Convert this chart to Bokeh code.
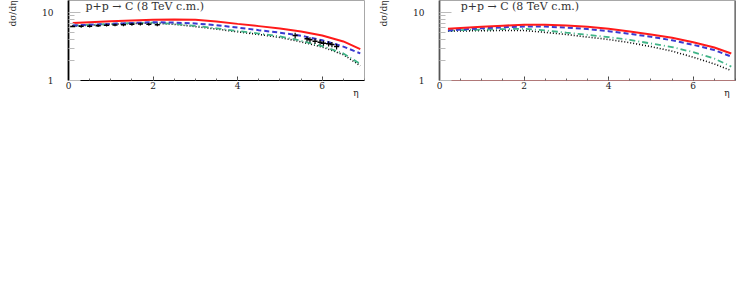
import math
from bokeh.plotting import figure
from bokeh.layouts import row
from bokeh.models import (Range1d, SingleIntervalTicker, FixedTicker, Label, Span,
                          BasicTickFormatter)
from bokeh.embed import file_html
from bokeh.resources import INLINE

# ---------------- data ----------------
eta_l = [0.1, 0.5, 1.0, 1.5, 2.0, 2.5, 3.0, 3.5, 4.0, 4.5, 5.0, 5.5, 6.0, 6.5, 6.9]
red_l = [7.0, 7.2, 7.45, 7.65, 7.8, 7.87, 7.8, 7.35, 6.8, 6.3, 5.8, 5.25, 4.6, 3.75, 2.9]
blue_l = [6.45, 6.6, 6.8, 7.0, 7.2, 7.1, 6.9, 6.5, 6.0, 5.5, 5.05, 4.55, 3.9, 3.15, 2.5]
green_l = [6.4, 6.6, 6.8, 7.0, 7.1, 6.8, 6.35, 5.85, 5.35, 4.9, 4.45, 3.85, 3.2, 2.5, 1.75]
black_l = [6.3, 6.5, 6.7, 6.9, 7.0, 6.7, 6.2, 5.7, 5.2, 4.75, 4.3, 3.7, 3.1, 2.4, 1.65]

eta_r = [0.2, 0.5, 1.0, 1.5, 2.0, 2.5, 3.0, 3.5, 4.0, 4.5, 5.0, 5.5, 6.0, 6.5, 6.9]
red_r = [5.75, 5.9, 6.15, 6.4, 6.59, 6.6, 6.45, 6.15, 5.75, 5.25, 4.75, 4.25, 3.66, 3.05, 2.5]
blue_r = [5.43, 5.6, 5.85, 6.05, 6.22, 6.2, 6.0, 5.7, 5.31, 4.85, 4.4, 3.9, 3.35, 2.8, 2.25]
green_r = [5.43, 5.5, 5.6, 5.7, 5.75, 5.45, 5.05, 4.7, 4.34, 3.95, 3.5, 3.1, 2.61, 2.1, 1.6]
black_r = [5.31, 5.35, 5.4, 5.43, 5.43, 5.1, 4.75, 4.35, 4.01, 3.6, 3.15, 2.7, 2.2, 1.75, 1.40]

pts_eta = [0.1, 0.3, 0.5, 0.7, 0.9, 1.1, 1.3, 1.5, 1.7, 1.9, 2.1,
           5.36, 5.64, 5.71, 5.83, 5.95, 6.03, 6.15, 6.23, 6.34]
pts_val = [6.2, 6.25, 6.3, 6.4, 6.5, 6.55, 6.6, 6.7, 6.75, 6.7, 6.6,
           4.59, 4.10, 3.97, 3.78, 3.66, 3.54, 3.47, 3.38, 3.16]
pts_err = [0.3] * 11 + [0.45, 0.35, 0.35, 0.35, 0.3, 0.3, 0.3, 0.3, 0.3]
pts_xerr = [0.06] * 20

y_major = [1, 10]
y_minor = [2, 3, 4, 5, 6, 7, 8, 9]

title_text = "p+p \u2192 C (8 TeV c.m.)"
ylabel_text = "d\u03c3/d\u03b7"
xlabel_text = "\u03b7"

SERIF = "DejaVu Serif"
EMSP = "\u2003"


def make_panel(width, bleft, bright, eta, red, blue, green, black,
               left_axis_color, bottom_axis_color, right_edge_color, right_edge_w,
               title_x, with_points):
    p = figure(width=width, height=104, output_backend="svg", toolbar_location=None,
               x_range=Range1d(0, 7), y_range=Range1d(1, 15), y_axis_type="log",
               min_border_left=bleft, min_border_right=bright,
               min_border_top=0, min_border_bottom=24)
    p.background_fill_color = "white"
    p.border_fill_color = "white"
    p.outline_line_color = "#a8a8a8"
    p.outline_line_width = 1
    p.xgrid.visible = False
    p.ygrid.visible = False

    xa = p.xaxis[0]
    xa.ticker = SingleIntervalTicker(interval=2, num_minor_ticks=4)
    xa.major_tick_in = 4
    xa.major_tick_out = 0
    xa.minor_tick_in = 2
    xa.minor_tick_out = 0
    xa.major_label_standoff = 1
    xa.axis_line_color = bottom_axis_color
    xa.axis_line_width = 1.2
    xa.major_tick_line_color = "#444444"
    xa.minor_tick_line_color = "#666666"
    xa.major_label_text_font = SERIF
    xa.major_label_text_font_size = "9px"
    xa.major_label_text_color = "#222222"
    # label pushed to the right end of the axis with leading em-spaces
    xa.axis_label = EMSP * 31 + xlabel_text
    xa.axis_label_standoff = -4
    xa.axis_label_text_font = SERIF
    xa.axis_label_text_font_style = "normal"
    xa.axis_label_text_font_size = "9px"
    xa.axis_label_text_color = "#222222"

    ya = p.yaxis[0]
    ya.ticker = FixedTicker(ticks=y_major, minor_ticks=y_minor)
    ya.formatter = BasicTickFormatter()
    ya.major_tick_in = 12
    ya.major_tick_out = 0
    ya.minor_tick_in = 6
    ya.minor_tick_out = 0
    ya.major_label_standoff = 15
    ya.axis_line_color = left_axis_color
    ya.axis_line_width = 1.8
    ya.major_tick_line_color = "#bbbbbb"
    ya.minor_tick_line_color = "#bbbbbb"
    ya.major_label_text_font = SERIF
    ya.major_label_text_font_size = "9px"
    ya.major_label_text_color = "#222222"
    # label pushed to the top end of the axis with leading em-spaces
    ya.axis_label = EMSP * 6 + ylabel_text
    ya.axis_label_standoff = 21
    ya.axis_label_text_font = SERIF
    ya.axis_label_text_font_style = "normal"
    ya.axis_label_text_font_size = "9px"
    ya.axis_label_text_color = "#333333"

    p.add_layout(Span(location=7, dimension="height", line_color=right_edge_color,
                      line_width=right_edge_w))

    p.line(eta, black, line_color="black", line_width=1.6, line_dash="1 2")
    p.line(eta, green, line_color="#3fb487", line_width=1.8, line_dash="6 3 1 3")
    p.line(eta, blue, line_color="#3a3ad0", line_width=2, line_dash="5 3")
    p.line(eta, red, line_color="#ff1a1a", line_width=2)

    if with_points:
        x0 = [e - d for e, d in zip(pts_eta, pts_xerr)]
        x1 = [e + d for e, d in zip(pts_eta, pts_xerr)]
        y0 = [v - d for v, d in zip(pts_val, pts_err)]
        y1 = [v + d for v, d in zip(pts_val, pts_err)]
        p.segment(x0=x0, y0=pts_val, x1=x1, y1=pts_val, line_color="black", line_width=1.5)
        p.segment(x0=pts_eta, y0=y0, x1=pts_eta, y1=y1, line_color="black", line_width=1.2)

    p.add_layout(Label(x=title_x, y=12.3, text=title_text, text_font=SERIF,
                       text_font_size="11px", text_color="#333333",
                       text_baseline="middle", text_align="left"))
    return p


p1 = make_panel(368, 68, 4, eta_l, red_l, blue_l, green_l, black_l,
                "black", "black", "#a8a8a8", 1, 0.40, True)
p2 = make_panel(368, 71, 1, eta_r, red_r, blue_r, green_r, black_r,
                "#555555", "#b07878", "#444444", 2, 0.50, False)

layout = row(p1, p2)

open("out.html", "w").write(file_html(layout, INLINE))
